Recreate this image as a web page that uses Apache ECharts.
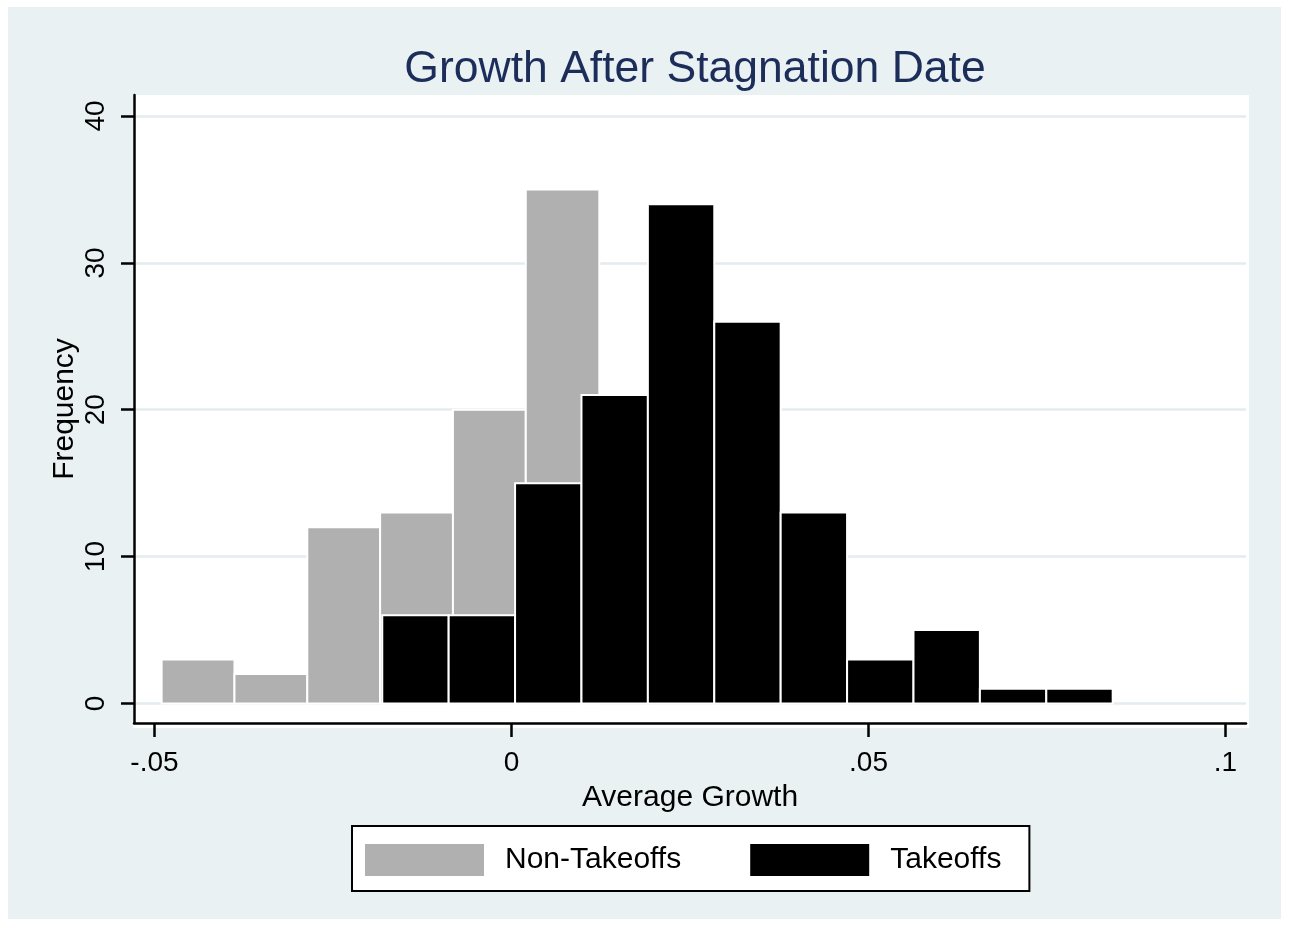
<!DOCTYPE html>
<html>
<head>
<meta charset="utf-8">
<script src="https://cdn.jsdelivr.net/npm/echarts@6/dist/echarts.min.js"></script>
<style>html,body{margin:0;padding:0;background:#fff;}#c{width:1289px;height:926px;}</style>
</head>
<body>
<div id="c"></div>
<script>
// ---- data ----
const nonTakeoffEdges = [-0.0490, -0.0388, -0.0286, -0.0184, -0.0082, 0.0020, 0.0123];
const nonTakeoffCounts = [3, 2, 12, 13, 20, 35];
const takeoffEdges = [-0.0181, -0.0088, 0.0005, 0.0098, 0.0191, 0.0284, 0.0377, 0.0470, 0.0563, 0.0656, 0.0749, 0.0842];
const takeoffCounts = [6, 6, 15, 21, 34, 26, 13, 3, 5, 1, 1];
const xTickValues = [-0.05, 0, 0.05, 0.1];
const xTickLabels = ['-.05', '0', '.05', '.1'];
const yTickValues = [0, 10, 20, 30, 40];
const yTickLabels = ['0', '10', '20', '30', '40'];

function toBins(edges, counts) {
  return counts.map((c, i) => [edges[i], edges[i + 1], c]);
}
function renderItem(params, api) {
  const p0 = api.coord([api.value(0), 0]);
  const p1 = api.coord([api.value(1), api.value(2)]);
  return {
    type: 'rect',
    shape: { x: p0[0], y: p1[1], width: p1[0] - p0[0], height: p0[1] - p1[1] },
    style: { fill: api.visual('color'), stroke: '#ffffff', lineWidth: 2 }
  };
}
const FONT = '"Liberation Sans", Arial, sans-serif';
const chart = echarts.init(document.getElementById('c'), null, { renderer: 'canvas' });
chart.setOption({
  animation: false,
  backgroundColor: '#ffffff',
  graphic: [
    { type: 'rect', z: -10, shape: { x: 8, y: 7, width: 1273, height: 912 }, style: { fill: '#EAF1F3' } },
    { type: 'rect', z: -9, shape: { x: 133, y: 95, width: 1116, height: 633 }, style: { fill: '#ffffff' } }
  ],
  title: {
    text: 'Growth After Stagnation Date',
    left: 690, top: 42, textAlign: 'center',
    textStyle: { fontFamily: FONT, fontSize: 44.5, fontWeight: 'normal', color: '#1C2D5A' }
  },
  legend: {
    left: 352, top: 826,
    padding: [18, 28, 15, 13],
    itemGap: 69, itemWidth: 119, itemHeight: 32,
    backgroundColor: '#ffffff', borderColor: '#000000', borderWidth: 2,
    icon: 'rect',
    textStyle: { fontFamily: FONT, fontSize: 30, color: '#000', padding: [0, 0, 0, 16] },
    data: ['Non-Takeoffs', 'Takeoffs']
  },
  grid: { left: 134, right: 43, top: 95, bottom: 203, containLabel: false },
  xAxis: {
    type: 'value', min: -0.05287, max: 0.10287,
    name: 'Average Growth', nameLocation: 'middle', nameGap: 60, nameMoveOverlap: false,
    nameTextStyle: { fontFamily: FONT, fontSize: 30, color: '#000' },
    axisLine: { show: true, onZero: false, lineStyle: { color: '#000', width: 2.5 } },
    axisTick: { show: true, length: 14, lineStyle: { color: '#000', width: 2.5 }, customValues: xTickValues },
    axisLabel: { fontFamily: FONT, fontSize: 28, color: '#000', margin: 26, customValues: xTickValues,
      formatter: v => { const i = xTickValues.findIndex(t => Math.abs(t - v) < 1e-9); return i >= 0 ? xTickLabels[i] : ''; } },
    splitLine: { show: false }
  },
  yAxis: {
    type: 'value', min: -1.328, max: 41.43,
    name: 'Frequency', nameLocation: 'middle', nameGap: 54, nameRotate: 90, nameMoveOverlap: false,
    nameTextStyle: { fontFamily: FONT, fontSize: 30, color: '#000' },
    axisLine: { show: true, onZero: false, lineStyle: { color: '#000', width: 2.5 } },
    axisTick: { show: true, length: 13, lineStyle: { color: '#000', width: 2.5 }, customValues: yTickValues },
    axisLabel: { fontFamily: FONT, fontSize: 28, color: '#000', margin: 24, rotate: 90, customValues: yTickValues,
      formatter: v => { const i = yTickValues.findIndex(t => Math.abs(t - v) < 1e-9); return i >= 0 ? yTickLabels[i] : ''; } },
    splitLine: { show: true, lineStyle: { color: '#E4ECEF', width: 2.5 } }
  },
  series: [
    { name: 'Non-Takeoffs', type: 'custom', renderItem: renderItem, color: '#B0B0B0', z: 2,
      encode: { x: [0, 1], y: 2 }, data: toBins(nonTakeoffEdges, nonTakeoffCounts) },
    { name: 'Takeoffs', type: 'custom', renderItem: renderItem, color: '#000000', z: 3,
      encode: { x: [0, 1], y: 2 }, data: toBins(takeoffEdges, takeoffCounts) }
  ]
});
</script>
</body>
</html>
